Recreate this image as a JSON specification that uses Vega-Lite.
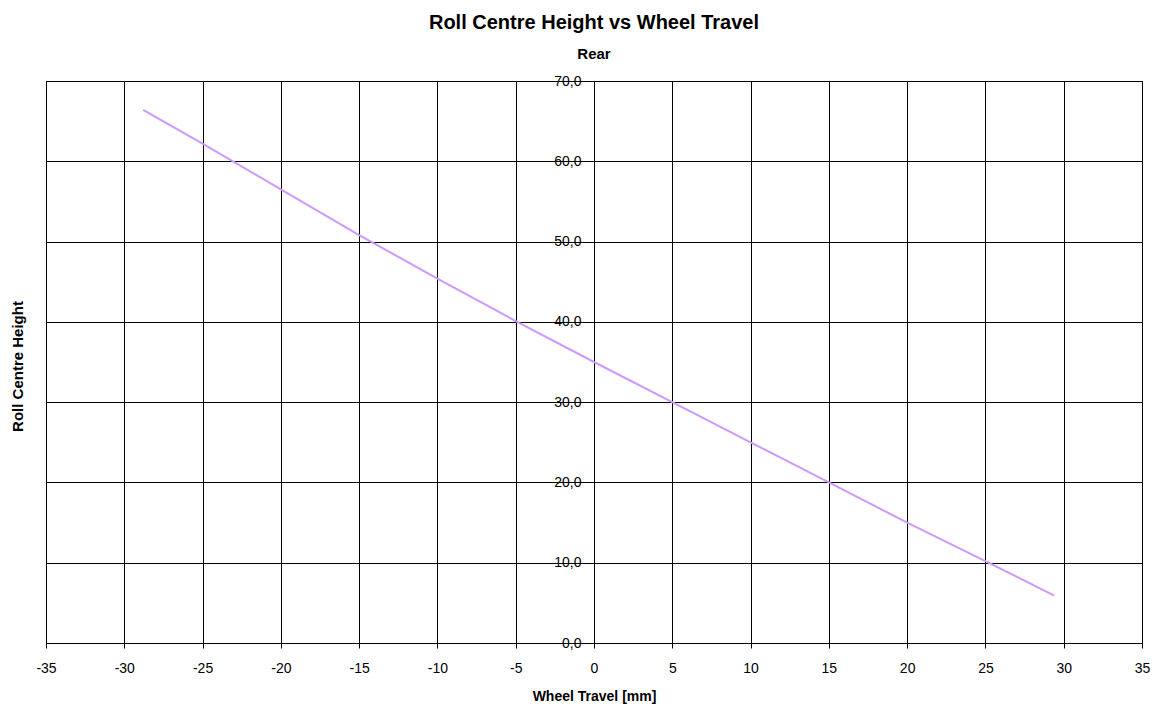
{
  "$schema": "https://vega.github.io/schema/vega-lite/v6.json",
  "autosize": {"type": "none"},
  "padding": {"left": 46, "top": 81, "right": 16, "bottom": 64},
  "width": 1096,
  "height": 562,
  "background": "white",
  "title": {
    "text": "Roll Centre Height vs Wheel Travel",
    "subtitle": "Rear",
    "anchor": "middle",
    "frame": "group",
    "font": "Liberation Sans",
    "fontSize": 20,
    "fontWeight": "bold",
    "color": "black",
    "subtitleFont": "Liberation Sans",
    "subtitleFontSize": 15,
    "subtitleFontWeight": "bold",
    "subtitleColor": "black",
    "subtitlePadding": 14,
    "offset": 12
  },
  "config": {
    "view": {"stroke": "#808080", "strokeWidth": 1},
    "axis": {
      "labelFont": "Liberation Sans",
      "labelFontSize": 14,
      "labelColor": "black",
      "titleFont": "Liberation Sans",
      "titleFontSize": 14,
      "titleFontWeight": "bold",
      "titleColor": "black",
      "gridColor": "black",
      "gridOpacity": 1,
      "gridWidth": 1,
      "domainColor": "black",
      "tickColor": "black"
    }
  },
  "data": {
    "values": [
      {"travel": -28.8, "rch": 66.4},
      {"travel": -25, "rch": 62.2},
      {"travel": -20, "rch": 56.5},
      {"travel": -15, "rch": 50.8},
      {"travel": -10, "rch": 45.4},
      {"travel": -5, "rch": 40.1},
      {"travel": 0, "rch": 35.0},
      {"travel": 5, "rch": 30.0},
      {"travel": 10, "rch": 25.0},
      {"travel": 15, "rch": 20.0},
      {"travel": 20, "rch": 15.0},
      {"travel": 25, "rch": 10.2},
      {"travel": 29.4, "rch": 5.9}
    ]
  },
  "mark": {"type": "line", "color": "#cc99ff", "strokeWidth": 2},
  "encoding": {
    "x": {
      "field": "travel",
      "type": "quantitative",
      "scale": {"domain": [-35, 35], "nice": false, "zero": false},
      "axis": {
        "title": "Wheel Travel [mm]",
        "values": [-35, -30, -25, -20, -15, -10, -5, 0, 5, 10, 15, 20, 25, 30, 35],
        "labelExpr": "'' + datum.value",
        "labelPadding": 13,
        "tickSize": 5,
        "titlePadding": 14,
        "labelFlush": false,
        "labelOverlap": false
      }
    },
    "y": {
      "field": "rch",
      "type": "quantitative",
      "scale": {"domain": [0, 70], "nice": false},
      "axis": {
        "title": "Roll Centre Height",
        "titleFontSize": 15,
        "values": [0, 10, 20, 30, 40, 50, 60, 70],
        "labelExpr": "replace(format(datum.value, '.1f'), '.', ',')",
        "offset": -548,
        "tickSize": 5,
        "labelPadding": 8,
        "titleX": -577,
        "titleY": 285,
        "titleAnchor": null,
        "titleAlign": "center",
        "titleBaseline": "middle",
        "labelFlush": false,
        "labelOverlap": false
      }
    }
  }
}
